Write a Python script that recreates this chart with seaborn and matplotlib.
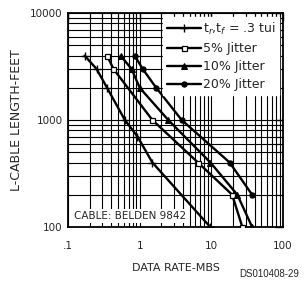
import matplotlib
matplotlib.use("Agg")
import matplotlib.pyplot as plt
import seaborn as sns
from matplotlib.ticker import LogLocator, FixedLocator, FixedFormatter, NullFormatter

# data (x = data rate in Mbs, y = cable length in feet)
rate_tui = [0.17, 0.25, 0.35, 0.62, 0.93, 1.5, 9.6]
len_tui = [4000, 3000, 2000, 1000, 700, 400, 100]

rate_5 = [0.35, 0.43, 1.5, 6.5, 19.5, 27]
len_5 = [4000, 3000, 1000, 400, 200, 100]

rate_10 = [0.54, 0.77, 1.0, 2.5, 9.7, 23, 37]
len_10 = [4000, 3000, 2000, 1000, 400, 200, 100]

rate_20 = [0.85, 1.1, 1.7, 3.85, 18, 37]
len_20 = [4000, 3000, 2000, 1000, 400, 200]

labels = ["t$_r$,t$_f$ = .3 tui", "5% Jitter", "10% Jitter", "20% Jitter"]

sns.set_style("white")
plt.rcParams["font.family"] = ["DejaVu Sans"]

fig = plt.figure(figsize=(3.04, 2.85), dpi=100)
ax = fig.add_axes([0.224, 0.204, 0.707, 0.750])
ax.set_xscale("log")
ax.set_yscale("log")

styles = [
    dict(marker="+", markersize=6, markeredgewidth=1.0, markeredgecolor="black"),
    dict(marker="s", markersize=3.6, markerfacecolor="white", markeredgecolor="black", markeredgewidth=0.9),
    dict(marker="^", markersize=4.6, markerfacecolor="black", markeredgecolor="black"),
    dict(marker="o", markersize=3.8, markerfacecolor="black", markeredgecolor="black"),
]
series = [(rate_tui, len_tui), (rate_5, len_5), (rate_10, len_10), (rate_20, len_20)]
for (xs, ys), lab, st in zip(series, labels, styles):
    sns.lineplot(x=xs, y=ys, ax=ax, color="black", linewidth=1.7, sort=False,
                 estimator=None, label=lab, zorder=3, **st)

ax.set_xlim(0.1, 100)
ax.set_ylim(100, 10000)

ax.xaxis.set_major_locator(FixedLocator([0.1, 1, 10, 100]))
ax.xaxis.set_major_formatter(FixedFormatter([".1", "1", "10", "100"]))
ax.yaxis.set_major_locator(FixedLocator([100, 1000, 10000]))
ax.yaxis.set_major_formatter(FixedFormatter(["100", "1000", "10000"]))
for axis in (ax.xaxis, ax.yaxis):
    axis.set_minor_locator(LogLocator(base=10, subs=range(2, 10)))
    axis.set_minor_formatter(NullFormatter())

ax.grid(True, which="both", color="black", linewidth=0.8)
ax.tick_params(which="both", direction="in", top=True, right=True,
               labelsize=7.5, color="black")
ax.tick_params(axis="x", which="both", pad=10)
ax.tick_params(axis="y", which="both", pad=4)
ax.tick_params(which="major", length=6, width=1)
ax.tick_params(which="minor", length=5, width=0.8)
for sp in ax.spines.values():
    sp.set_color("black")
    sp.set_linewidth(1.3)

ax.set_xlabel("DATA RATE-MBS", fontsize=8, labelpad=9)
ax.set_ylabel("L-CABLE LENGTH-FEET", fontsize=9, labelpad=5)

leg = ax.legend(loc="upper right", fontsize=9, frameon=True, framealpha=1,
                facecolor="white", edgecolor="white", fancybox=False,
                handlelength=2.7, handletextpad=0.15, labelspacing=0.42,
                borderpad=0.3, borderaxespad=0.3)
leg.set_zorder(5)

ax.text(0.12, 118, "CABLE: BELDEN 9842", fontsize=7.5, zorder=4,
        bbox=dict(facecolor="white", edgecolor="none", pad=1.5))

fig.text(0.985, 0.02, "DS010408-29", fontsize=7, ha="right", va="bottom",
         family=["Liberation Sans"])

fig.savefig("out.png", dpi=100)
plt.close(fig)
